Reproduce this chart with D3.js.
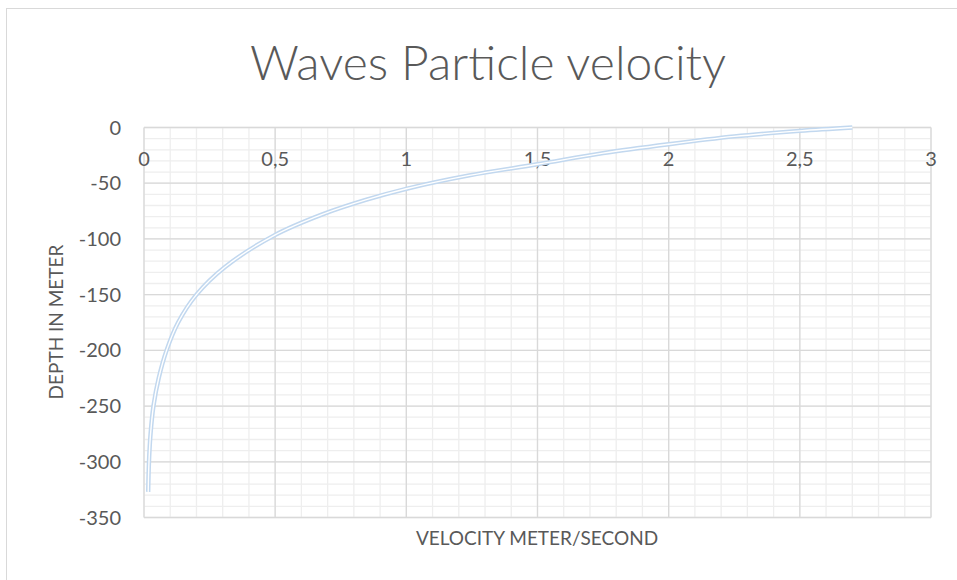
<!DOCTYPE html>
<html>
<head>
<meta charset="utf-8">
<script src="https://cdn.jsdelivr.net/npm/d3@7"></script>
<style>
  html, body { margin: 0; padding: 0; background: #fff; }
  svg { display: block; font-family: Lato, "Open Sans", sans-serif; }
</style>
</head>
<body>
<svg id="chart" width="957" height="580"></svg>
<script>
// velocity (m/s), with matching depth (m)
const velocity = [2.70, 2.50, 2.25, 2.00, 1.75, 1.50, 1.24, 1.00, 0.845, 0.68, 0.495, 0.31, 0.20, 0.13, 0.086, 0.056, 0.036, 0.025, 0.019, 0.016];
const depth    = [0, -3, -8, -15, -23, -33, -43, -55, -65, -78, -97, -125, -150, -175, -200, -225, -250, -275, -300, -327];
const xTicks = [0, 0.5, 1, 1.5, 2, 2.5, 3];
const yTicks = [0, -50, -100, -150, -200, -250, -300, -350];

const svg = d3.select('#chart');
const m = { left: 144, right: 931, top: 127.5, bottom: 517.5 };

// chart frame
svg.append('rect')
  .attr('x', 6.5).attr('y', 8.5)
  .attr('width', 1000).attr('height', 1000)
  .attr('fill', 'none').attr('stroke', '#d9d9d9');

const x = d3.scaleLinear().domain([0, 3]).range([m.left, m.right]);
const y = d3.scaleLinear().domain([-350, 0]).range([m.bottom, m.top]);

const fmt = d => String(d).replace('.', ',');

// minor grid
const g = svg.append('g');
g.selectAll('line.vx').data(d3.range(0, 31).map(i => i / 10))
  .join('line')
    .attr('x1', d => x(d)).attr('x2', d => x(d))
    .attr('y1', m.top).attr('y2', m.bottom)
    .attr('stroke', '#eeeeee').attr('stroke-width', 1.3);
g.selectAll('line.hy').data(d3.range(0, 36).map(i => -i * 10))
  .join('line')
    .attr('y1', d => y(d)).attr('y2', d => y(d))
    .attr('x1', m.left).attr('x2', m.right)
    .attr('stroke', '#eeeeee').attr('stroke-width', 1.3);

// major grid
svg.append('g').selectAll('line').data(xTicks)
  .join('line')
    .attr('x1', d => x(d)).attr('x2', d => x(d))
    .attr('y1', m.top).attr('y2', m.bottom)
    .attr('stroke', '#d9d9d9').attr('stroke-width', 1.3);
svg.append('g').selectAll('line').data(yTicks)
  .join('line')
    .attr('y1', d => y(d)).attr('y2', d => y(d))
    .attr('x1', m.left).attr('x2', m.right)
    .attr('stroke', '#d9d9d9').attr('stroke-width', 1.3);

// tick labels
svg.append('g').selectAll('text').data(yTicks)
  .join('text')
    .attr('x', 121).attr('y', d => y(d))
    .attr('dy', '0.35em')
    .attr('text-anchor', 'end')
    .attr('font-size', 20).attr('fill', '#595959')
    .text(d => d);
svg.append('g').selectAll('text').data(xTicks)
  .join('text')
    .attr('x', d => x(d)).attr('y', 166)
    .attr('text-anchor', 'middle')
    .attr('font-size', 20).attr('fill', '#595959')
    .text(fmt);

// the curve, drawn as a double line
const pts = velocity.map((v, i) => [v, depth[i]]);
const line = d3.line()
  .x(d => x(d[0])).y(d => y(d[1]))
  .curve(d3.curveCatmullRom.alpha(0.5));
svg.append('path').datum(pts)
  .attr('d', line).attr('fill', 'none')
  .attr('stroke', '#c2d8ef').attr('stroke-width', 4.4);
svg.append('path').datum(pts)
  .attr('d', line).attr('fill', 'none')
  .attr('stroke', '#fff').attr('stroke-width', 1.4);

// titles
svg.append('text')
  .attr('x', 488).attr('y', 80)
  .attr('text-anchor', 'middle')
  .attr('font-size', 48).attr('font-weight', 300)
  .attr('fill', '#595959')
  .text('Waves Particle velocity');
svg.append('text')
  .attr('x', 537).attr('y', 545)
  .attr('text-anchor', 'middle')
  .attr('font-size', 19).attr('fill', '#595959')
  .text('VELOCITY METER/SECOND');
svg.append('text')
  .attr('transform', 'translate(63,322) rotate(-90)')
  .attr('text-anchor', 'middle')
  .attr('font-size', 19).attr('fill', '#595959')
  .text('DEPTH IN METER');
</script>
</body>
</html>
